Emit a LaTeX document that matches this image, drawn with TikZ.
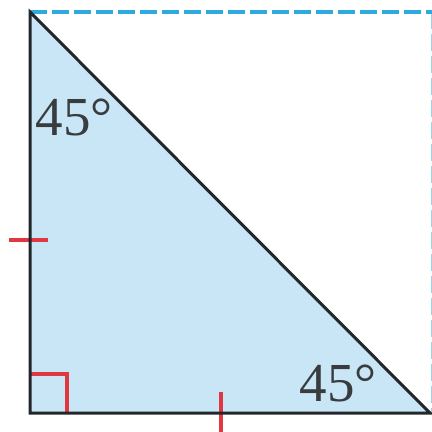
\documentclass[tikz,border=0pt]{standalone}
\usepackage{fontspec}
\setmainfont{Liberation Serif}
\definecolor{trifill}{RGB}{200,230,246}
\definecolor{dashblue}{RGB}{45,170,222}
\definecolor{markred}{RGB}{225,55,65}
\definecolor{edge}{RGB}{35,38,42}
\tikzset{
  edgeline/.style={draw=edge, line width=3pt, line join=miter},
  guide/.style={draw=dashblue, line width=4pt, dash pattern=on 17pt off 5pt},
  redmark/.style={draw=markred, line width=3.5pt},
  anglelabel/.style={text=edge!90, font=\fontsize{55}{55}\selectfont, inner sep=0pt}
}
\begin{document}
\begin{tikzpicture}[x=1pt,y=-1pt]
\useasboundingbox (0,0) rectangle (432,432);
\coordinate (A) at (30,12);
\coordinate (B) at (30,413);
\coordinate (C) at (430,413);
\coordinate (T) at (432,12);
\coordinate (R) at (432.5,413);
\coordinate (RT) at (432.5,12);
\fill[trifill] (A) -- (B) -- (C) -- cycle;
\draw[guide] (A) -- (T);
\draw[guide, draw opacity=0.5] (RT) -- (R);
\coordinate (m1) at (30,374);
\coordinate (m2) at (67,374);
\coordinate (m3) at (67,413);
\draw[redmark] (m1) -- (m2) -- (m3);
\coordinate (t1) at (9,240);
\coordinate (t2) at (48,240);
\coordinate (b1) at (221,392);
\coordinate (b2) at (221,432);
\draw[redmark, line width=4pt] (t1) -- (t2);
\draw[redmark, line width=4pt] (b1) -- (b2);
\draw[edgeline] (A) -- (B) -- (C) -- cycle;
\node[anglelabel] (top) at (74,117) {45°};
\node[anglelabel] (bot) at (338,383) {45°};
\end{tikzpicture}
\end{document}
